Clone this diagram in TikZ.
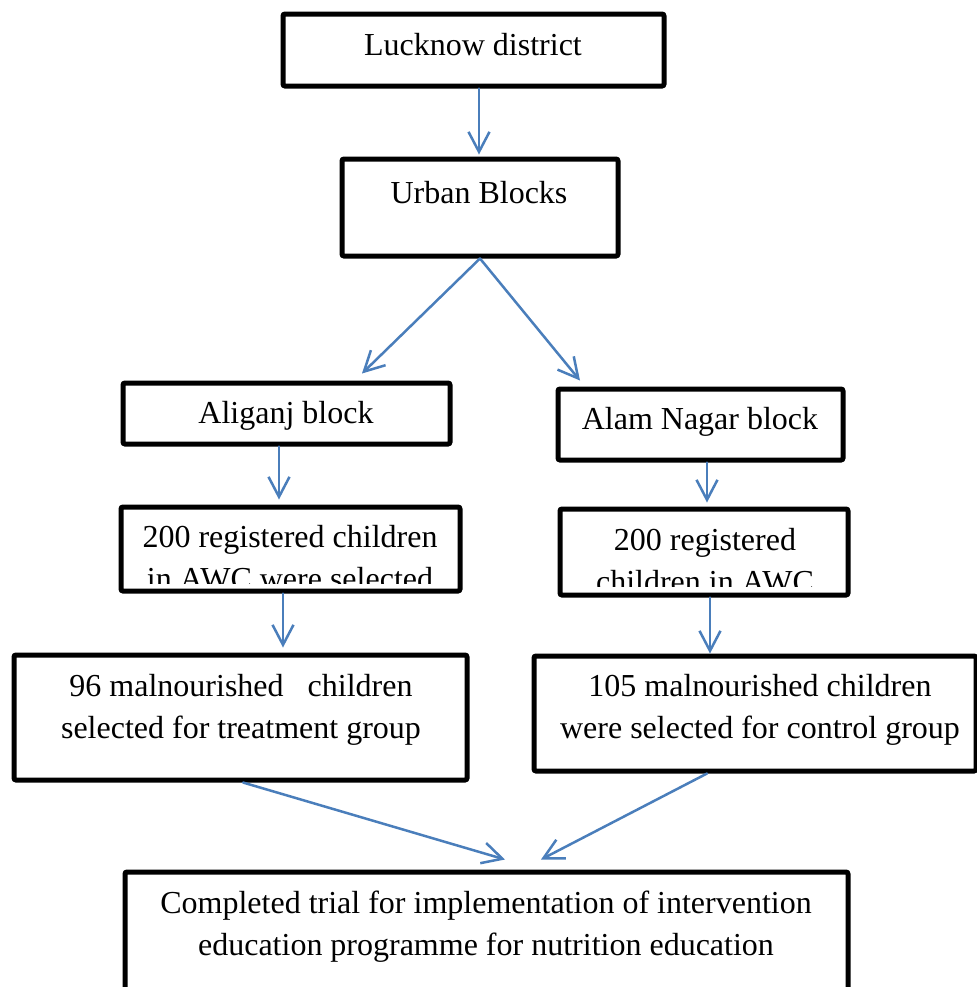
\documentclass[tikz,border=0pt]{standalone}
\usepackage{fontspec}
\setmainfont{Liberation Serif}
\usetikzlibrary{arrows.meta}
\definecolor{flowblue}{RGB}{74,126,187}
\begin{document}
\begin{tikzpicture}[x=0.5pt,y=-0.5pt,
    box/.style={draw, line width=2.5pt, inner sep=0pt, rounded corners=1pt},
    txt/.style={anchor=base, align=center, inner sep=0pt, font=\fontsize{16}{21}\selectfont},
    arr/.style={draw=flowblue, line width=1.25pt, line cap=round,
      -{Straight Barb[length=10pt,width=10.5pt]}}]
  \clip (0,0) rectangle (977,987);
  % boxes
  \node[box, minimum width=190.5pt, minimum height=36pt] (lucknow) at (473.5,50) {};
  \node[box, minimum width=138pt, minimum height=48.5pt] (urban) at (480,207.5) {};
  \node[box, minimum width=163.5pt, minimum height=30.5pt] (aliganj) at (286.5,413.5) {};
  \node[box, minimum width=142.5pt, minimum height=35.5pt] (alam) at (700.5,424.5) {};
  \node[box, minimum width=169.5pt, minimum height=42pt] (left200) at (290.5,549) {};
  \node[box, minimum width=144pt, minimum height=43pt] (right200) at (704,552) {};
  \node[box, minimum width=226.5pt, minimum height=62.5pt] (treat) at (240.5,717.5) {};
  \node[box, minimum width=221pt, minimum height=57.5pt] (control) at (755,713.5) {};
  \node[box, minimum width=361.5pt, minimum height=69pt] (trial) at (486.5,941) {};
  % texts (base = last line)
  \node[txt] (lucknow-t) at (473,55) {Lucknow district};
  \node[txt] (urban-t) at (479,203) {Urban Blocks};
  \node[txt] (aliganj-t) at (286,423) {Aliganj block};
  \node[txt] (alam-t) at (700,429) {Alam Nagar block};
  \begin{scope}
    \clip (124,510) rectangle (457,583);
    \node[txt] (left200-t) at (290,589) {200 registered children\\in AWC were selected};
  \end{scope}
  \begin{scope}
    \clip (563,512) rectangle (845,586);
    \node[txt] (right200-t) at (705,592) {200 registered\\children in AWC};
  \end{scope}
  \node[txt] (treat-t) at (241,738) {96 malnourished\ \ \ children\\selected for treatment group};
  \node[txt] (control-t) at (760,738) {105 malnourished children\\were selected for control group};
  \node[txt] (trial-t) at (486,955) {Completed trial for implementation of intervention\\education programme for nutrition education};
  % arrows
  \draw[arr] ([xshift=2.75pt]lucknow.south) -- ([xshift=-0.5pt,yshift=1pt]urban.north);
  \draw[arr] (urban.south) -- ([xshift=37.75pt,yshift=3.5pt]aliganj.north);
  \draw[arr] (urban.south) -- ([xshift=-60.25pt,yshift=3pt]alam.north);
  \draw[arr] ([xshift=-3.75pt]aliganj.south) -- ([xshift=-5.75pt,yshift=2.5pt]left200.north);
  \draw[arr] ([xshift=3.25pt]alam.south) -- ([xshift=1.5pt,yshift=2pt]right200.north);
  \draw[arr] ([xshift=-3.75pt]left200.south) -- ([xshift=21.25pt,yshift=2.5pt]treat.north);
  \draw[arr] ([xshift=3pt]right200.south) -- ([xshift=-22.5pt]control.north);
  \draw[arr] ([xshift=1.25pt]treat.south) -- ([xshift=9.25pt,yshift=5pt]trial.north);
  \draw[arr] ([xshift=-24pt]control.south) -- ([xshift=27.25pt,yshift=5pt]trial.north);
\end{tikzpicture}
\end{document}
